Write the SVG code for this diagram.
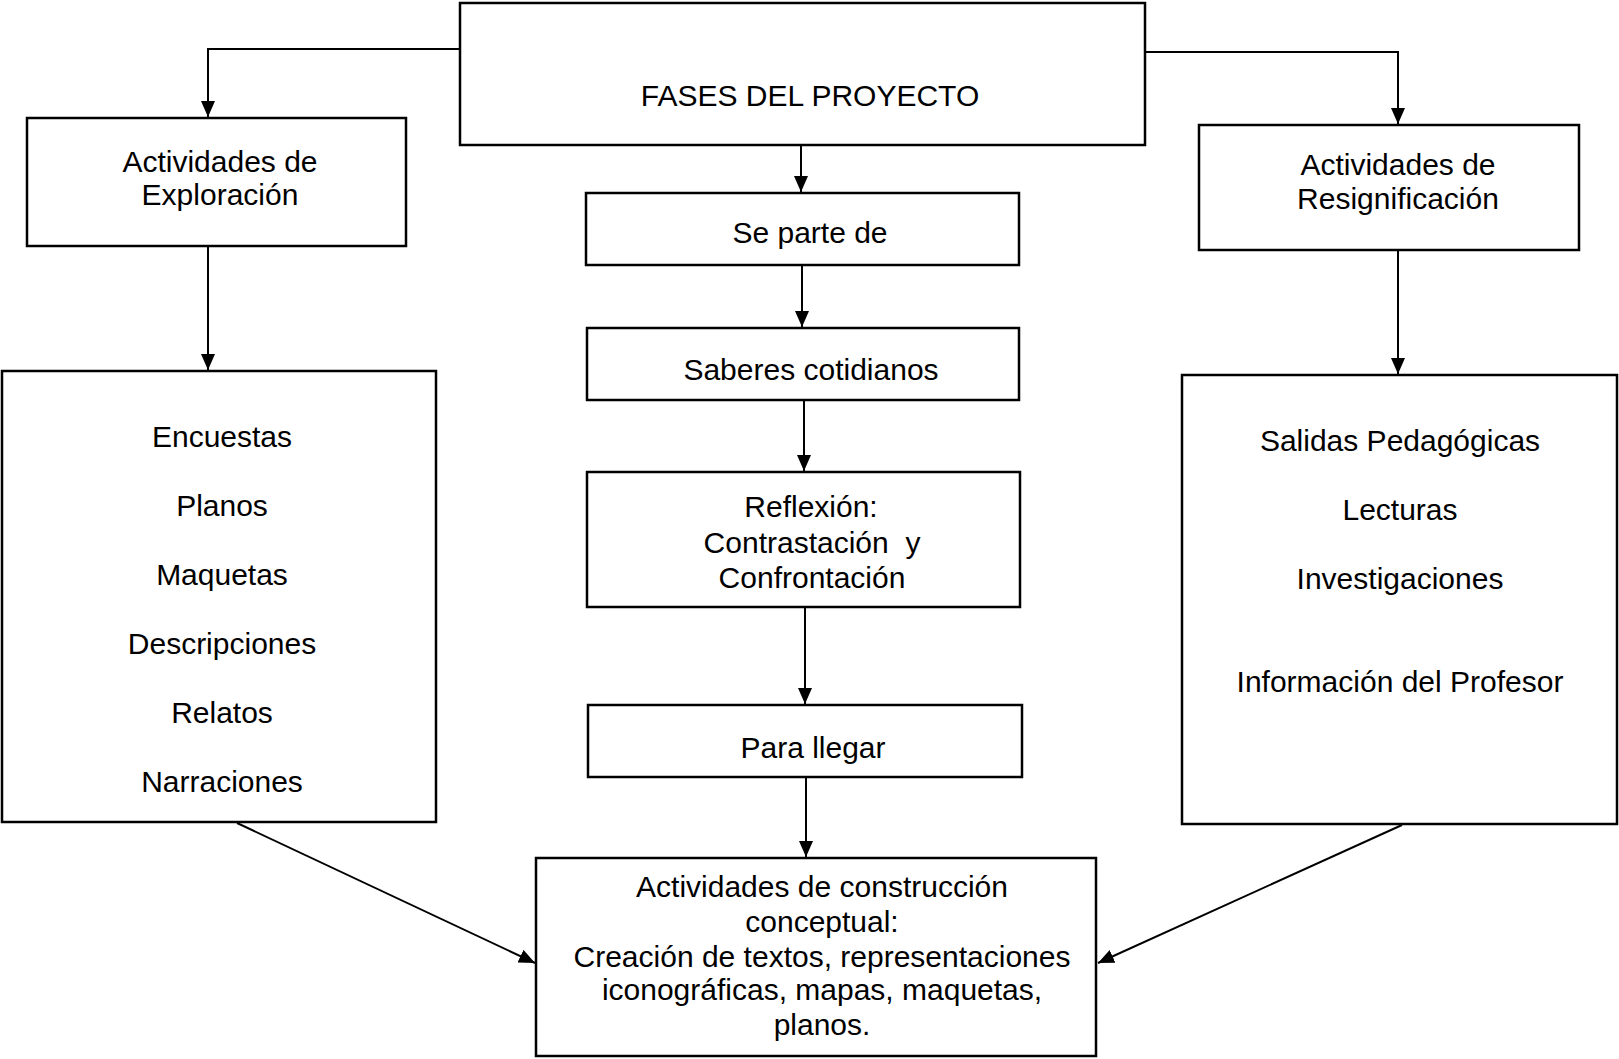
<svg xmlns="http://www.w3.org/2000/svg" width="1619" height="1059" viewBox="0 0 1619 1059">
<style>
.box{fill:#fff;stroke:#000;stroke-width:2.5}
.t{font-family:"Liberation Sans",Arial,sans-serif;font-size:30px;fill:#000;text-anchor:middle}
.c{fill:none;stroke:#000;stroke-width:2}
</style>
<defs>
<marker id="ah" markerUnits="userSpaceOnUse" markerWidth="17" markerHeight="15" refX="16" refY="7" orient="auto">
<path d="M0,0 L16,7 L0,14 z" fill="#000"/>
</marker>
</defs>
<rect width="1619" height="1059" fill="#fff"/>
<g id="connectors">
<polyline class="c" points="460,49 208,49 208,117" marker-end="url(#ah)"/>
<polyline class="c" points="1145,52 1398,52 1398,124" marker-end="url(#ah)"/>
<line class="c" x1="801" y1="145" x2="801" y2="192" marker-end="url(#ah)"/>
<line class="c" x1="208" y1="246" x2="208" y2="370" marker-end="url(#ah)"/>
<line class="c" x1="1398" y1="250" x2="1398" y2="374" marker-end="url(#ah)"/>
<line class="c" x1="802" y1="265" x2="802" y2="327" marker-end="url(#ah)"/>
<line class="c" x1="804" y1="400" x2="804" y2="471" marker-end="url(#ah)"/>
<line class="c" x1="805" y1="607" x2="805" y2="704" marker-end="url(#ah)"/>
<line class="c" x1="806" y1="777" x2="806" y2="857" marker-end="url(#ah)"/>
<line class="c" x1="237" y1="823" x2="535" y2="963" marker-end="url(#ah)"/>
<line class="c" x1="1402" y1="825" x2="1098" y2="963" marker-end="url(#ah)"/>
</g>
<g id="fases">
<rect class="box" x="460" y="3" width="685" height="142"/>
<text class="t" x="810" y="106">FASES DEL PROYECTO</text>
</g>
<g id="exploracion">
<rect class="box" x="27" y="118" width="379" height="128"/>
<text class="t" x="220" y="172">Actividades de</text>
<text class="t" x="220" y="205">Exploración</text>
</g>
<g id="resignificacion">
<rect class="box" x="1199" y="125" width="380" height="125"/>
<text class="t" x="1398" y="175">Actividades de</text>
<text class="t" x="1398" y="209">Resignificación</text>
</g>
<g id="separte">
<rect class="box" x="586" y="193" width="433" height="72"/>
<text class="t" x="810" y="243">Se parte de</text>
</g>
<g id="saberes">
<rect class="box" x="587" y="328" width="432" height="72"/>
<text class="t" x="811" y="380">Saberes cotidianos</text>
</g>
<g id="reflexion">
<rect class="box" x="587" y="472" width="433" height="135"/>
<text class="t" x="811" y="517">Reflexión:</text>
<text class="t" x="812" y="553" xml:space="preserve">Contrastación  y</text>
<text class="t" x="812" y="588">Confrontación</text>
</g>
<g id="parallegar">
<rect class="box" x="588" y="705" width="434" height="72"/>
<text class="t" x="813" y="758">Para llegar</text>
</g>
<g id="exploracion-lista">
<rect class="box" x="2" y="371" width="434" height="451"/>
<text class="t" x="222" y="447">Encuestas</text>
<text class="t" x="222" y="516">Planos</text>
<text class="t" x="222" y="585">Maquetas</text>
<text class="t" x="222" y="654">Descripciones</text>
<text class="t" x="222" y="723">Relatos</text>
<text class="t" x="222" y="792">Narraciones</text>
</g>
<g id="resignificacion-lista">
<rect class="box" x="1182" y="375" width="435" height="449"/>
<text class="t" x="1400" y="451">Salidas Pedagógicas</text>
<text class="t" x="1400" y="520">Lecturas</text>
<text class="t" x="1400" y="589">Investigaciones</text>
<text class="t" x="1400" y="692">Información del Profesor</text>
</g>
<g id="construccion">
<rect class="box" x="536" y="858" width="560" height="198"/>
<text class="t" x="822" y="897">Actividades de construcción</text>
<text class="t" x="822" y="932">conceptual:</text>
<text class="t" x="822" y="967">Creación de textos, representaciones</text>
<text class="t" x="822" y="1000">iconográficas, mapas, maquetas,</text>
<text class="t" x="822" y="1035">planos.</text>
</g>
</svg>
